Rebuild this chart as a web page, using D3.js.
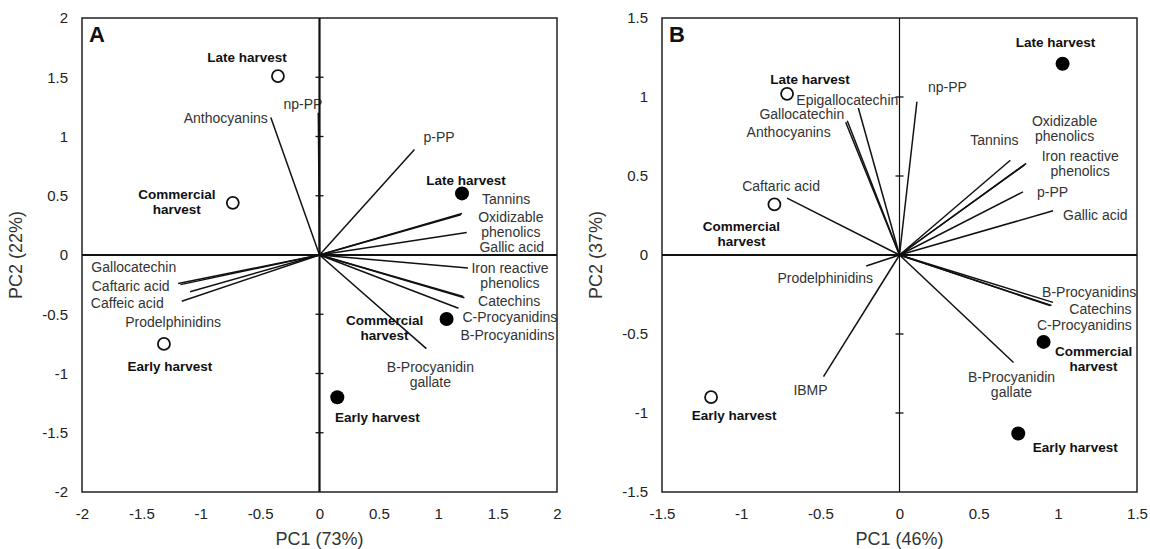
<!DOCTYPE html>
<html>
<head>
<meta charset="utf-8">
<script src="https://cdn.jsdelivr.net/npm/d3@7"></script>
<style>
body{margin:0;background:#fff;}
text{font-family:"Liberation Sans",Arial,sans-serif;}
</style>
</head>
<body>
<svg id="chart" width="1150" height="549"></svg>
<script>
// panel A loadings
var loadNamesA=["Anthocyanins","np-PP","p-PP","Tannins","Oxidizable phenolics","Gallic acid","Iron reactive phenolics","Catechins","C-Procyanidins","B-Procyanidins","B-Procyanidin gallate","Gallocatechin","Caftaric acid","Prodelphinidins","Caffeic acid"];
var loadXA=[-0.41,-0.01,0.80,1.20,1.19,1.24,1.25,1.21,1.22,1.17,0.90,-1.19,-1.17,-1.09,-1.16];
var loadYA=[1.16,1.20,0.89,0.35,0.34,0.19,-0.11,-0.35,-0.36,-0.45,-0.79,-0.24,-0.25,-0.31,-0.39];

// panel B loadings
var loadNamesB=["Epigallocatechin","Gallocatechin","Anthocyanins","np-PP","Tannins","Oxidizable phenolics","Iron reactive phenolics","p-PP","Gallic acid","Caftaric acid","Prodelphinidins","IBMP","B-Procyanidins","Catechins","C-Procyanidins","B-Procyanidin gallate"];
var loadXB=[-0.26,-0.33,-0.34,0.11,0.70,0.79,0.80,0.78,0.97,-0.71,-0.21,-0.48,0.97,0.96,0.95,0.72];
var loadYB=[0.93,0.85,0.84,0.97,0.60,0.57,0.58,0.40,0.28,0.36,-0.07,-0.77,-0.30,-0.32,-0.32,-0.68];

// scores (open = first group, filled = second group)
var scoreNames=["Late harvest","Commercial harvest","Early harvest"];
var openXA=[-0.35,-0.73,-1.31], openYA=[1.51,0.44,-0.75];
var fillXA=[1.20,1.07,0.15], fillYA=[0.52,-0.54,-1.20];
var openXB=[-0.71,-0.79,-1.19], openYB=[1.02,0.32,-0.90];
var fillXB=[1.03,0.91,0.75], fillYB=[1.21,-0.55,-1.13];

var ticksA=[-2,-1.5,-1,-0.5,0,0.5,1,1.5,2];
var ticksB=[-1.5,-1,-0.5,0,0.5,1,1.5];

// label placement, pixels from the point: [dx, dy, anchor, line break]
var labA={
 "Anthocyanins":[-3,1,"end"],"np-PP":[4,-9,"end"],"p-PP":[9,-12,"start"],
 "Tannins":[20,-14,"start"],"Oxidizable phenolics":[50,2,"middle",1],"Gallic acid":[45,15,"middle"],
 "Iron reactive phenolics":[42,0,"middle",1],"Catechins":[46,5,"middle"],"C-Procyanidins":[-2,19,"start"],
 "B-Procyanidins":[2,27,"start"],"B-Procyanidin gallate":[4,18,"middle",1],"Gallocatechin":[-2,-16,"end"],
 "Caftaric acid":[-11,1,"end"],"Prodelphinidins":[-17,30,"middle"],"Caffeic acid":[-18,2,"end"]
};
var labB={
 "Epigallocatechin":[-62,-8,"start"],"Gallocatechin":[-3,-7,"end"],"Anthocyanins":[-15,10,"end"],
 "np-PP":[11,-15,"start"],"Tannins":[-16,-20,"middle"],"Oxidizable phenolics":[40,-44,"middle",1],
 "Iron reactive phenolics":[54,-7,"middle",1],"p-PP":[14,0,"start"],"Gallic acid":[10,4,"start"],
 "Caftaric acid":[-6,-12,"middle"],"Prodelphinidins":[-41,12,"middle"],"IBMP":[-13,13,"middle"],
 "B-Procyanidins":[-11,-10,"start"],"Catechins":[49,4,"middle"],"C-Procyanidins":[-13,20,"start"],
 "B-Procyanidin gallate":[-2,15,"middle",1]
};
var scoreLabA={open:[[-31,-19],[-56,-9],[6,22]],fill:[[4,-13],[-62,1],[40,20]]};
var scoreLabB={open:[[23,-15],[-33,22],[23,18]],fill:[[-7,-22],[50,9],[57,14]]};

var svg=d3.select("#chart");

function splitName(name,brk){
  if(!brk) return [name];
  if(name.indexOf("phenolics")>0) return [name.replace(" phenolics",""),"phenolics"];
  if(name.indexOf("gallate")>0) return [name.replace(" gallate",""),"gallate"];
  if(name=="Commercial harvest") return ["Commercial","harvest"];
  return [name];
}

// y is the middle of the first line
function addText(g,x,y,lines,anchor){
  var t=g.append("text")
    .attr("x",x).attr("y",y)
    .attr("text-anchor",anchor);
  lines.forEach(function(s,i){
    t.append("tspan").attr("x",x).attr("y",y+i*15).attr("dy","0.35em").text(s);
  });
  return t;
}

function drawPanel(opt){
  var left=opt.left, top=18, w=475, h=474;
  var x=d3.scaleLinear().domain(opt.domain).range([left,left+w]);
  var y=d3.scaleLinear().domain(opt.domain).range([top+h,top]);
  var g=svg.append("g");

  // tick labels
  var fmt=function(d){return String(d);};
  var xa=d3.axisBottom(x).tickValues(opt.ticks).tickSize(0).tickPadding(16).tickFormat(fmt);
  var ya=d3.axisLeft(y).tickValues(opt.ticks).tickSize(0).tickPadding(14).tickFormat(fmt);
  var gx=g.append("g").attr("transform","translate(0,"+(top+h)+")").call(xa);
  var gy=g.append("g").attr("transform","translate("+left+",0)").call(ya);
  [gx,gy].forEach(function(a){
    a.select(".domain").remove();
    a.selectAll("text").attr("font-size",15).attr("fill","#222").style("font-family","'Liberation Sans',Arial,sans-serif");
  });

  g.append("text").attr("x",left+w/2).attr("y",545).attr("text-anchor","middle")
    .attr("font-size",18).attr("fill","#333").text(opt.xTitle);
  g.append("text").attr("transform","translate("+(left-60)+","+(top+h/2)+") rotate(-90)")
    .attr("text-anchor","middle").attr("font-size",18).attr("fill","#333").text(opt.yTitle);

  // loading labels
  opt.names.forEach(function(n,i){
    var p=opt.lab[n];
    addText(g,x(opt.lx[i])+p[0],y(opt.ly[i])+p[1],splitName(n,p[3]),p[2])
      .attr("font-size",14).attr("fill","#333");
  });
  // score labels
  scoreNames.forEach(function(n,i){
    var a=opt.slab.open[i], b=opt.slab.fill[i];
    addText(g,x(opt.ox[i])+a[0],y(opt.oy[i])+a[1],splitName(n,1),"middle")
      .attr("font-size",13.5).attr("font-weight","bold").attr("fill","#111");
    addText(g,x(opt.fx[i])+b[0],y(opt.fy[i])+b[1],splitName(n,1),"middle")
      .attr("font-size",13.5).attr("font-weight","bold").attr("fill","#111");
  });

  // box
  g.append("rect").attr("x",left).attr("y",top).attr("width",w).attr("height",h)
    .attr("fill","none").attr("stroke","#222").attr("stroke-width",1.5);
  // zero axes
  g.append("line").attr("x1",left).attr("x2",left+w).attr("y1",y(0)).attr("y2",y(0))
    .attr("stroke","#111").attr("stroke-width",2.2);
  g.append("line").attr("x1",x(0)).attr("x2",x(0)).attr("y1",top).attr("y2",top+h)
    .attr("stroke","#111").attr("stroke-width",opt.vw);
  g.selectAll(".tk").data(opt.ticks.filter(function(d){return d!=0 && Math.abs(d)<opt.domain[1];}))
    .enter().append("line")
    .attr("x1",x(0)-4).attr("x2",x(0)+4)
    .attr("y1",function(d){return y(d);}).attr("y2",function(d){return y(d);})
    .attr("stroke","#111").attr("stroke-width",1.3);

  // loading vectors
  g.selectAll(".vec").data(opt.names).enter().append("line")
    .attr("x1",x(0)).attr("y1",y(0))
    .attr("x2",function(d,i){return x(opt.lx[i]);})
    .attr("y2",function(d,i){return y(opt.ly[i]);})
    .attr("stroke","#111").attr("stroke-width",1.5);

  // scores
  g.selectAll(".op").data(scoreNames).enter().append("circle")
    .attr("cx",function(d,i){return x(opt.ox[i]);})
    .attr("cy",function(d,i){return y(opt.oy[i]);})
    .attr("r",6).attr("fill","#fff").attr("stroke","#111").attr("stroke-width",1.8);
  g.selectAll(".fp").data(scoreNames).enter().append("circle")
    .attr("cx",function(d,i){return x(opt.fx[i]);})
    .attr("cy",function(d,i){return y(opt.fy[i]);})
    .attr("r",7).attr("fill","#000");

  g.append("text").attr("x",left+7).attr("y",top+24).attr("font-size",22)
    .attr("font-weight","bold").attr("fill","#111").text(opt.letter);
}

drawPanel({left:82,domain:[-2,2],ticks:ticksA,xTitle:"PC1 (73%)",yTitle:"PC2 (22%)",letter:"A",vw:2.2,
  names:loadNamesA,lx:loadXA,ly:loadYA,lab:labA,ox:openXA,oy:openYA,fx:fillXA,fy:fillYA,slab:scoreLabA});
drawPanel({left:662,domain:[-1.5,1.5],ticks:ticksB,xTitle:"PC1 (46%)",yTitle:"PC2 (37%)",letter:"B",vw:1.2,
  names:loadNamesB,lx:loadXB,ly:loadYB,lab:labB,ox:openXB,oy:openYB,fx:fillXB,fy:fillYB,slab:scoreLabB});
</script>
</body>
</html>
